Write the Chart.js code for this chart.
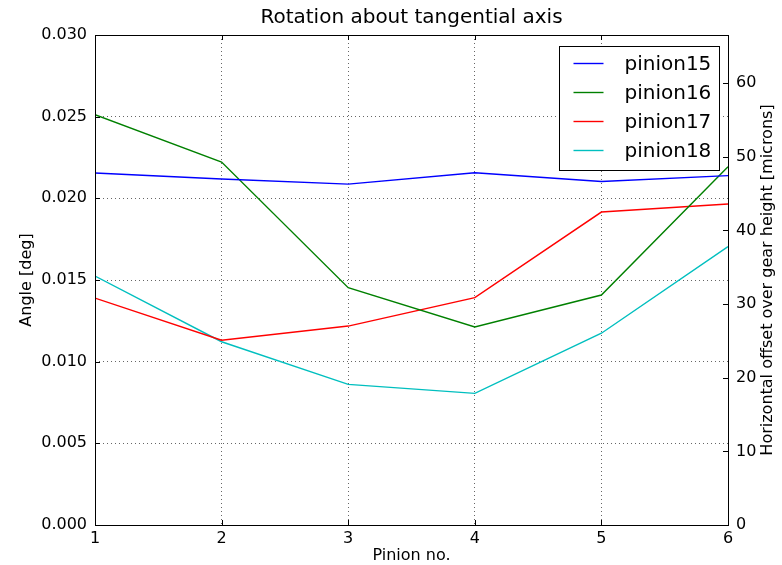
<!DOCTYPE html>
<html>
<head>
<meta charset="utf-8">
<script src="https://cdn.jsdelivr.net/npm/chart.js@4/dist/chart.umd.min.js"></script>
<style>
html,body{margin:0;padding:0;background:#fff;}
#wrap{width:782px;height:565px;}
</style>
</head>
<body>
<div id="wrap"><canvas id="c" width="782" height="565"></canvas></div>
<script>
// ---- data ----
const pinionNumbers = [1, 2, 3, 4, 5, 6];
const seriesNames = ['pinion15', 'pinion16', 'pinion17', 'pinion18'];
const pinion15 = [0.02155, 0.02118, 0.02087, 0.02157, 0.02103, 0.02139];
const pinion16 = [0.02512, 0.02222, 0.01453, 0.01212, 0.01408, 0.02194];
const pinion17 = [0.01389, 0.01131, 0.01218, 0.01392, 0.01916, 0.01965];
const pinion18 = [0.01524, 0.01122, 0.00861, 0.00806, 0.01174, 0.01704];
const angleTicks = [0, 0.005, 0.010, 0.015, 0.020, 0.025, 0.030];
const micronTicks = [0, 10, 20, 30, 40, 50, 60];
const micronAxisMax = 66.55;
const chartTitle = 'Rotation about tangential axis';
const rightAxisTitle = 'Horizontal offset over gear height [microns]';
const seriesColors = ['#0000ff', '#008000', '#ff0000', '#00bfbf'];

const FONT = '"DejaVu Sans", "Liberation Sans", sans-serif';
const allSeries = [pinion15, pinion16, pinion17, pinion18];

const datasets = allSeries.map((vals, i) => ({
  label: seriesNames[i],
  data: pinionNumbers.map((p, j) => ({x: p, y: vals[j]})),
  borderColor: seriesColors[i],
  backgroundColor: seriesColors[i],
  borderWidth: 1.4,
  pointRadius: 0,
  tension: 0,
  fill: false,
  yAxisID: 'y'
}));

const frameAndLegend = {
  id: 'frameAndLegend',
  afterDraw(chart) {
    const ctx = chart.ctx;
    const a = chart.chartArea;
    const xs = chart.scales.x, ys = chart.scales.y, y2 = chart.scales.y2;
    ctx.save();
    ctx.strokeStyle = '#000';
    ctx.lineWidth = 1;
    // inward ticks
    const tl = 5;
    ctx.beginPath();
    pinionNumbers.forEach(v => {
      const px = Math.round(xs.getPixelForValue(v)) + 0.5;
      ctx.moveTo(px, a.bottom); ctx.lineTo(px, a.bottom - tl);
      ctx.moveTo(px, a.top); ctx.lineTo(px, a.top + tl);
    });
    angleTicks.forEach(v => {
      const py = Math.round(ys.getPixelForValue(v)) + 0.5;
      ctx.moveTo(a.left, py); ctx.lineTo(a.left + tl, py);
    });
    micronTicks.forEach(v => {
      const py = Math.round(y2.getPixelForValue(v)) + 0.5;
      ctx.moveTo(a.right, py); ctx.lineTo(a.right - tl, py);
    });
    ctx.stroke();
    // frame
    ctx.strokeRect(Math.round(a.left) + 0.5, Math.round(a.top) + 0.5,
                   Math.round(a.right - a.left), Math.round(a.bottom - a.top));
    // title centred over the plot area
    ctx.fillStyle = '#000';
    ctx.font = '20px ' + FONT;
    ctx.textAlign = 'center';
    ctx.textBaseline = 'middle';
    ctx.fillText(chartTitle, (a.left + a.right) / 2, 18);
    // right axis title, reading bottom-to-top
    ctx.save();
    ctx.font = '16px ' + FONT;
    ctx.translate(768, (a.top + a.bottom) / 2);
    ctx.rotate(-Math.PI / 2);
    ctx.fillText(rightAxisTitle, 0, 0);
    ctx.restore();
    // legend box
    const bw = 160, bh = 124;
    const bx = Math.round(a.right - 9 - bw) + 0.5;
    const by = Math.round(a.top + 11) + 0.5;
    ctx.fillStyle = '#fff';
    ctx.fillRect(bx, by, bw, bh);
    ctx.strokeStyle = '#000';
    ctx.lineWidth = 1;
    ctx.strokeRect(bx, by, bw, bh);
    ctx.font = '20px ' + FONT;
    ctx.textBaseline = 'middle';
    ctx.textAlign = 'left';
    chart.data.datasets.forEach((ds, i) => {
      const ry = by + 17 + i * 29;
      ctx.strokeStyle = ds.borderColor;
      ctx.lineWidth = 1.4;
      ctx.beginPath();
      ctx.moveTo(bx + 14, ry); ctx.lineTo(bx + 44, ry);
      ctx.stroke();
      ctx.fillStyle = '#000';
      ctx.fillText(ds.label, bx + 65, ry + 1);
    });
    ctx.restore();
  }
};

new Chart(document.getElementById('c'), {
  type: 'line',
  data: { datasets },
  options: {
    responsive: false,
    animation: false,
    devicePixelRatio: 1,
    layout: { padding: { left: 0, right: 0, top: 35, bottom: 0 } },
    plugins: {
      legend: { display: false },
      tooltip: { enabled: false },
      title: { display: false }
    },
    scales: {
      x: {
        type: 'linear',
        min: 1, max: 6,
        afterBuildTicks: s => { s.ticks = pinionNumbers.map(v => ({value: v})); },
        afterFit: s => { s.height = 40; },
        ticks: { color: '#000', font: { family: FONT, size: 16 }, padding: 4, maxRotation: 0,
                 callback: v => String(v) },
        grid: { display: true, drawTicks: false, color: 'rgba(0,0,0,0.6)', lineWidth: 1 },
        border: { display: false, dash: [1, 3] },
        title: { display: true, text: 'Pinion no.', color: '#000',
                 font: { family: FONT, size: 16, lineHeight: 1.2 }, padding: { top: 0, bottom: 0 } }
      },
      y: {
        type: 'linear',
        position: 'left',
        min: 0, max: 0.03,
        afterBuildTicks: s => { s.ticks = angleTicks.map(v => ({value: v})); },
        afterFit: s => { s.width = 95; },
        ticks: { color: '#000', font: { family: FONT, size: 16 }, padding: 8,
                 callback: v => Number(v).toFixed(3) },
        grid: { display: true, drawTicks: false, color: 'rgba(0,0,0,0.6)', lineWidth: 1 },
        border: { display: false, dash: [1, 3] },
        title: { display: true, text: 'Angle [deg]', color: '#000',
                 font: { family: FONT, size: 16, lineHeight: 1.2 }, padding: { top: 17, bottom: 0 } }
      },
      y2: {
        type: 'linear',
        position: 'right',
        min: 0, max: micronAxisMax,
        afterBuildTicks: s => { s.ticks = micronTicks.map(v => ({value: v})); },
        afterFit: s => { s.width = 54; },
        ticks: { color: '#000', font: { family: FONT, size: 16 }, padding: 8,
                 callback: v => String(v) },
        grid: { display: false, drawTicks: false },
        border: { display: false },
        title: { display: false }
      }
    }
  },
  plugins: [frameAndLegend]
});
</script>
</body>
</html>
